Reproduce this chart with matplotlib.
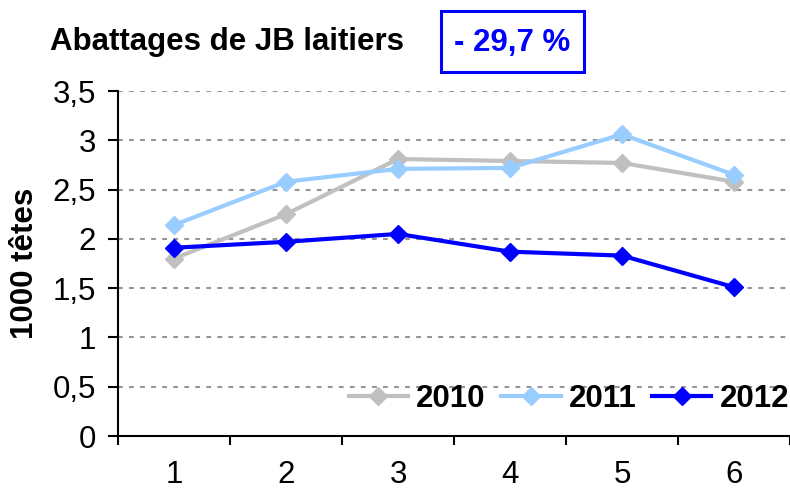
import matplotlib
matplotlib.use("Agg")
import matplotlib.pyplot as plt
from matplotlib.ticker import FixedLocator, FuncFormatter, NullFormatter
from matplotlib.patches import Rectangle
import numpy as np

plt.rcParams['font.family'] = ['Liberation Sans', 'DejaVu Sans']

categories = ['1', '2', '3', '4', '5', '6']
series_names = ['2010', '2011', '2012']
v2010 = [1.80, 2.25, 2.81, 2.79, 2.77, 2.58]
v2011 = [2.14, 2.58, 2.71, 2.72, 3.06, 2.65]
v2012 = [1.91, 1.97, 2.05, 1.87, 1.83, 1.51]
colors = ['#C0C0C0', '#99CCFF', '#0000FF']
y_ticks = [0, 0.5, 1, 1.5, 2, 2.5, 3, 3.5]
title = 'Abattages de JB laitiers'
badge = '- 29,7 %'
ylabel = '1000 têtes'

FS = 22.5
W, H = 790, 493
fig = plt.figure(figsize=(W/100, H/100), dpi=100)
ax = fig.add_axes([118/W, 1-436/H, 1-118/W, (436-91)/H])

x = np.arange(len(categories))
for vals, name, c in zip([v2010, v2011, v2012], series_names, colors):
    ax.plot(x, vals, color=c, lw=3, marker='D', ms=9, label=name, zorder=3)

ax.set_xlim(-0.5, len(categories) - 0.5)
ax.set_ylim(0, 3.5)
ax.yaxis.set_major_locator(FixedLocator(y_ticks))
ax.yaxis.set_major_formatter(FuncFormatter(lambda v, p: ('%g' % v).replace('.', ',')))
ax.xaxis.set_major_locator(FixedLocator(np.arange(-0.5, len(categories), 1.0)))
ax.xaxis.set_major_formatter(NullFormatter())
ax.xaxis.set_minor_locator(FixedLocator(x))
ax.xaxis.set_minor_formatter(FuncFormatter(lambda v, p: categories[int(round(v))]))
ax.tick_params(axis='x', which='major', direction='out', length=6.5, width=1.5)
ax.tick_params(axis='x', which='minor', length=0, pad=17, labelsize=FS)
ax.tick_params(axis='y', direction='out', length=7, width=1.5, labelsize=FS, pad=9)

for yv in y_ticks[1:]:
    ax.axhline(yv, color='#969696', lw=1.5, ls=(0, (2.3, 3)), zorder=1)

for s in ['top', 'right']:
    ax.spines[s].set_visible(False)
ax.spines['left'].set_linewidth(1.5)
ax.spines['bottom'].set_linewidth(1.5)

fig.text(25/W, 1-263/H, ylabel, fontsize=FS, fontweight='bold', rotation=90,
         va='center', ha='center')

leg = ax.legend(loc='center right', bbox_to_anchor=(789/W, 1-399/H),
                bbox_transform=fig.transFigure, ncol=3, frameon=False,
                prop={'size': FS, 'weight': 'bold'}, handlelength=1.9,
                columnspacing=0.5, handletextpad=0.26, borderaxespad=0, borderpad=0)

fig.text(50/W, 1-42/H, title, fontsize=FS, fontweight='bold', va='center', ha='left')
fig.patches.append(Rectangle((441/W, 1-72/H), (584-441)/W, (72-11)/H,
                             transform=fig.transFigure, fc='white', ec='#0000FF', lw=2.2))
fig.text(512/W, 1-43/H, badge, fontsize=FS, fontweight='bold', color='#0000FF',
         va='center', ha='center')

fig.savefig('out.png', dpi=100)
